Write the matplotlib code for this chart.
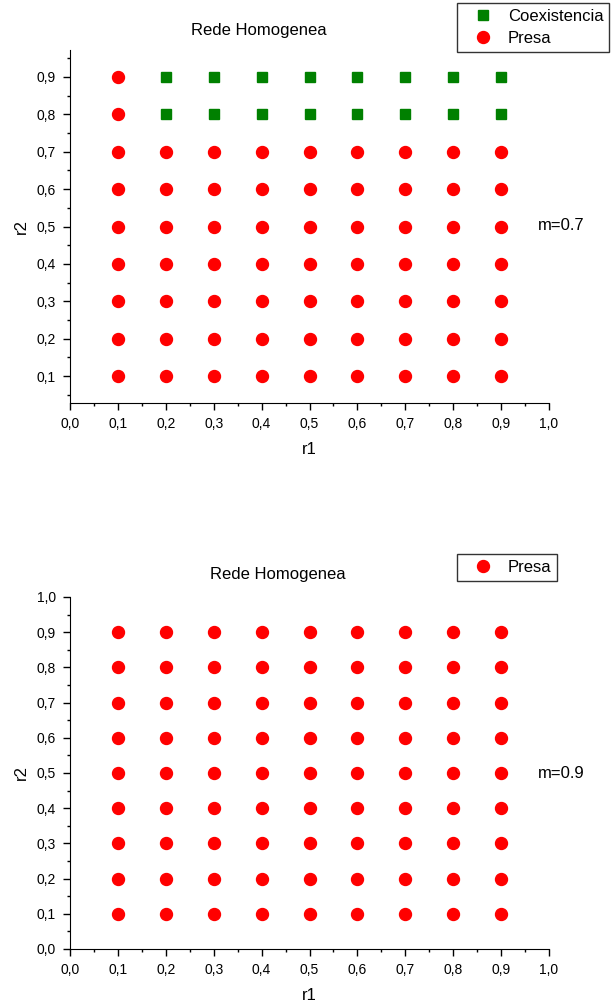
import numpy as np
import matplotlib
matplotlib.use("Agg")
import matplotlib.pyplot as plt
from matplotlib.ticker import MultipleLocator, FuncFormatter
from matplotlib.lines import Line2D

plt.rcParams['font.family'] = ['Liberation Sans', 'DejaVu Sans']

r1_vals = [0.1, 0.2, 0.3, 0.4, 0.5, 0.6, 0.7, 0.8, 0.9]
r2_vals = [0.9, 0.8, 0.7, 0.6, 0.5, 0.4, 0.3, 0.2, 0.1]   # rows, top to bottom

# C = Coexistencia, P = Presa
grid_m07 = ["PCCCCCCCC",
            "PCCCCCCCC",
            "PPPPPPPPP",
            "PPPPPPPPP",
            "PPPPPPPPP",
            "PPPPPPPPP",
            "PPPPPPPPP",
            "PPPPPPPPP",
            "PPPPPPPPP"]
grid_m09 = ["PPPPPPPPP"] * 9

panel_labels = ["m=0.7", "m=0.9"]
title = "Rede Homogenea"

RED = '#ff0000'
GREEN = '#008000'


def comma(v, pos):
    return ("%.1f" % v).replace('.', ',')


def points(grid, key):
    xs, ys = [], []
    for row, y in zip(grid, r2_vals):
        for c, x in zip(row, r1_vals):
            if c == key:
                xs.append(x)
                ys.append(y)
    return xs, ys


fig = plt.figure(figsize=(6.11, 10.01), dpi=100)

ax1 = fig.add_axes([70/611, 1-403/1001, 479/611, 353/1001])
ax2 = fig.add_axes([70/611, 1-949/1001, 479/611, 352/1001])

for ax, grid in [(ax1, grid_m07), (ax2, grid_m09)]:
    xs, ys = points(grid, 'C')
    if xs:
        ax.plot(xs, ys, 's', color=GREEN, markersize=7.5, linestyle='none')
    xs, ys = points(grid, 'P')
    ax.plot(xs, ys, 'o', color=RED, markersize=8.6, linestyle='none')
    ax.set_xlim(0, 1)
    ax.spines['top'].set_visible(False)
    ax.spines['right'].set_visible(False)
    ax.xaxis.set_major_locator(MultipleLocator(0.1))
    ax.xaxis.set_minor_locator(MultipleLocator(0.05))
    ax.yaxis.set_major_locator(MultipleLocator(0.1))
    ax.yaxis.set_minor_locator(MultipleLocator(0.05))
    ax.xaxis.set_major_formatter(FuncFormatter(comma))
    ax.yaxis.set_major_formatter(FuncFormatter(comma))
    ax.tick_params(which='major', direction='out', length=5, width=1,
                   labelsize=10, pad=5)
    ax.tick_params(which='minor', direction='out', length=2.5, width=1)
    ax.set_xlabel("r1", fontsize=12, labelpad=8)
    ax.set_ylabel("r2", fontsize=12, labelpad=6)

ax1.set_ylim(0.028, 0.972)
ax2.set_ylim(0, 1)

fig.text(259/611, 1-31/1001, title, ha='center', va='center', fontsize=12)
fig.text(278/611, 1-574/1001, title, ha='center', va='center', fontsize=12)
fig.text(561/611, 1-225/1001, panel_labels[0], ha='center', va='center', fontsize=12)
fig.text(561/611, 1-773/1001, panel_labels[1], ha='center', va='center', fontsize=12)

h_c = Line2D([], [], marker='s', color=GREEN, linestyle='none', markersize=7.5)
h_p = Line2D([], [], marker='o', color=RED, linestyle='none', markersize=8.6)

leg_kw = dict(loc='upper left', fontsize=12, frameon=True, fancybox=False,
              borderpad=0.35, labelspacing=0.45, handletextpad=0.3,
              borderaxespad=0, handlelength=2.4)

leg1 = fig.legend([h_c, h_p], ["Coexistencia", "Presa"],
                  bbox_to_anchor=(457/611, 1-3/1001), **leg_kw)
leg1.get_frame().set_edgecolor('black')
leg1.get_frame().set_linewidth(1)

leg2 = fig.legend([h_p], ["Presa"],
                  bbox_to_anchor=(457/611, 1-554/1001), **leg_kw)
leg2.get_frame().set_edgecolor('black')
leg2.get_frame().set_linewidth(1)

plt.savefig("out.png", dpi=100)
